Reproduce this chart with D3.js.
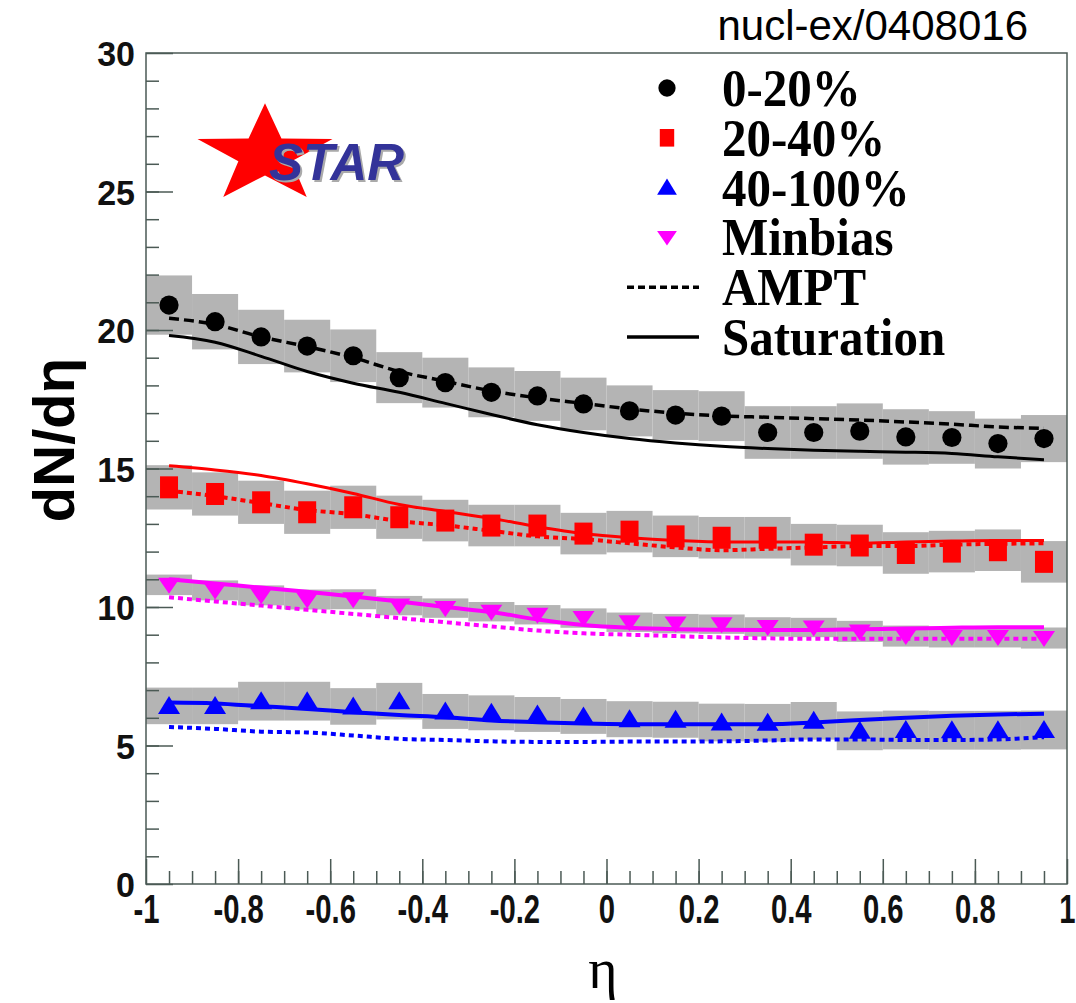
<!DOCTYPE html>
<html>
<head>
<meta charset="utf-8">
<script src="https://cdn.jsdelivr.net/npm/d3@7"></script>
<style>
  body { margin: 0; background: #fff; }
  text { font-family: "Liberation Sans", Arial, sans-serif; }
</style>
</head>
<body>
<svg id="chart" width="1076" height="1003"></svg>
<script>
// eta bin centres (bins are 0.1 wide)
var eta = [-0.95, -0.85, -0.75, -0.65, -0.55, -0.45, -0.35, -0.25, -0.15, -0.05,
            0.05,  0.15,  0.25,  0.35,  0.45,  0.55,  0.65,  0.75,  0.85,  0.95];

// STAR data points and systematic error (half height of grey box)
var cent0020 = [20.9, 20.3, 19.75, 19.42, 19.07, 18.28, 18.1, 17.75, 17.62, 17.33,
                17.08, 16.93, 16.89, 16.3, 16.3, 16.35, 16.14, 16.12, 15.9, 16.08];
var err0020  = [1.07, 1.0, 0.98, 0.95, 0.95, 0.92, 0.9, 0.9, 0.9, 0.95,
                0.92, 0.9, 0.9, 0.95, 0.95, 1.0, 1.0, 0.95, 0.9, 0.85];
var cent2040 = [14.32, 14.08, 13.78, 13.42, 13.6, 13.24, 13.12, 12.94, 12.94, 12.65,
                12.72, 12.55, 12.5, 12.5, 12.25, 12.22, 11.95, 12.0, 12.05, 11.63];
var err2040  = [0.8, 0.78, 0.78, 0.78, 0.78, 0.78, 0.75, 0.75, 0.75, 0.75,
                0.75, 0.75, 0.75, 0.75, 0.75, 0.75, 0.75, 0.75, 0.75, 0.75];
var cent40100 = [6.43, 6.43, 6.6, 6.6, 6.41, 6.6, 6.23, 6.18, 6.12, 6.05,
                 5.95, 5.93, 5.83, 5.82, 5.89, 5.53, 5.56, 5.55, 5.55, 5.56];
var err40100  = [0.66, 0.66, 0.7, 0.7, 0.66, 0.66, 0.63, 0.63, 0.63, 0.63,
                 0.65, 0.65, 0.68, 0.68, 0.68, 0.7, 0.7, 0.7, 0.7, 0.7];
var minbias = [10.8, 10.6, 10.42, 10.27, 10.28, 10.05, 9.96, 9.83, 9.72, 9.6,
               9.45, 9.4, 9.38, 9.28, 9.26, 9.12, 8.95, 8.92, 8.92, 8.88];
var errMinbias = [0.37, 0.36, 0.36, 0.36, 0.36, 0.35, 0.35, 0.35, 0.35, 0.35,
                  0.35, 0.35, 0.35, 0.35, 0.35, 0.38, 0.38, 0.38, 0.38, 0.38];

// model curves
var ampt0020 = [20.42, 20.2, 19.75, 19.4, 19.0, 18.5, 18.15, 17.8, 17.55, 17.35,
                17.15, 17.0, 16.9, 16.85, 16.8, 16.75, 16.68, 16.6, 16.5, 16.45];
var sat0020  = [19.8, 19.56, 19.05, 18.5, 18.08, 17.75, 17.35, 16.95, 16.58, 16.3,
                16.08, 15.92, 15.8, 15.72, 15.66, 15.62, 15.59, 15.54, 15.42, 15.32];
var ampt2040 = [14.2, 14.0, 13.75, 13.5, 13.35, 13.1, 12.95, 12.75, 12.55, 12.45,
                12.3, 12.15, 12.05, 12.1, 12.15, 12.2, 12.2, 12.25, 12.28, 12.3];
var sat2040  = [15.1, 14.95, 14.75, 14.45, 14.1, 13.7, 13.45, 13.2, 12.9, 12.65,
                12.5, 12.4, 12.35, 12.35, 12.35, 12.3, 12.35, 12.38, 12.4, 12.4];
var amptMinbias = [10.35, 10.2, 10.05, 9.9, 9.75, 9.6, 9.45, 9.3, 9.15, 9.05,
                   9.0, 8.95, 8.9, 8.87, 8.85, 8.85, 8.85, 8.85, 8.85, 8.85];
var satMinbias  = [11.0, 10.85, 10.7, 10.55, 10.38, 10.2, 10.0, 9.82, 9.55, 9.35,
                   9.25, 9.2, 9.18, 9.17, 9.17, 9.2, 9.22, 9.25, 9.27, 9.27];
var ampt40100 = [5.67, 5.6, 5.5, 5.47, 5.36, 5.24, 5.2, 5.15, 5.13, 5.13,
                 5.14, 5.14, 5.15, 5.18, 5.22, 5.22, 5.2, 5.2, 5.22, 5.3];
var sat40100  = [6.55, 6.52, 6.42, 6.32, 6.2, 6.1, 6.02, 5.9, 5.84, 5.79,
                 5.77, 5.77, 5.77, 5.77, 5.83, 5.92, 6.0, 6.07, 6.12, 6.15];

var xTickLabels = [-1, -0.8, -0.6, -0.4, -0.2, 0, 0.2, 0.4, 0.6, 0.8, 1];
var yTickLabels = [0, 5, 10, 15, 20, 25, 30];
var legendNames = ["0-20%", "20-40%", "40-100%", "Minbias", "AMPT", "Saturation"];

(function dNdEta() {
    var svg = d3.select("#chart");
    var left = 146, right = 1067, top = 53, bottom = 884;
    var binHalf = 0.05;

    var x = d3.scaleLinear().domain([-1, 1]).range([left, right]);
    var y = d3.scaleLinear().domain([0, 30]).range([bottom, top]);

    var series = [
        { name: "0-20%",   color: "#000000", pts: cent0020,  err: err0020,    ampt: ampt0020,    sat: sat0020,    marker: "circle", dash: "10,5", w: 3.5, sw: 3 },
        { name: "20-40%",  color: "#ff0000", pts: cent2040,  err: err2040,    ampt: ampt2040,    sat: sat2040,    marker: "square", dash: "5,4", w: 4, sw: 3 },
        { name: "Minbias", color: "#ff00ff", pts: minbias,   err: errMinbias, ampt: amptMinbias, sat: satMinbias, marker: "down",   dash: "5,4", w: 4, sw: 4 },
        { name: "40-100%", color: "#0000ff", pts: cent40100, err: err40100,   ampt: ampt40100,   sat: sat40100,   marker: "up",     dash: "5,4", w: 4, sw: 4 }
    ];

    // grey systematic boxes
    var boxes = svg.append("g").attr("class", "sys");
    series.forEach(function(s) {
        boxes.selectAll(null)
             .data(eta)
             .enter().append("rect")
             .attr("x", function(d) { return x(d - binHalf); })
             .attr("width", function(d) { return x(d + binHalf) - x(d - binHalf); })
             .attr("y", function(d, i) { return y(s.pts[i] + s.err[i]); })
             .attr("height", function(d, i) { return y(s.pts[i] - s.err[i]) - y(s.pts[i] + s.err[i]); })
             .attr("fill", "#b4b4b4");
    });

    var line = function(vals) {
        return d3.line()
                 .x(function(d) { return x(d); })
                 .y(function(d, i) { return y(vals[i]); })
                 .curve(d3.curveMonotoneX)(eta);
    };

    series.forEach(function(s) {
        svg.append("path")
           .attr("d", line(s.ampt))
           .attr("fill", "none")
           .attr("stroke", s.color)
           .attr("stroke-width", s.w)
           .attr("stroke-dasharray", s.dash);
        svg.append("path")
           .attr("d", line(s.sat))
           .attr("fill", "none")
           .attr("stroke", s.color)
           .attr("stroke-width", s.sw);
    });

    // markers
    var drawMarker = function(g, type, color, size) {
        if (type == "circle") {
            g.append("circle").attr("r", size * 0.48).attr("fill", color);
        } else if (type == "square") {
            g.append("rect").attr("x", -size * 0.45).attr("y", -size * 0.55)
             .attr("width", size * 0.9).attr("height", size * 1.1).attr("fill", color);
        } else if (type == "up") {
            g.append("path").attr("d", "M0," + (-size * 0.5) + "L" + (size * 0.55) + "," + (size * 0.4) + "L" + (-size * 0.55) + "," + (size * 0.4) + "Z").attr("fill", color);
        } else {
            g.append("path").attr("d", "M0," + (size * 0.45) + "L" + (size * 0.55) + "," + (-size * 0.35) + "L" + (-size * 0.55) + "," + (-size * 0.35) + "Z").attr("fill", color);
        }
    };

    series.forEach(function(s) {
        svg.append("g").selectAll("g")
           .data(eta)
           .enter().append("g")
           .attr("transform", function(d, i) { return "translate(" + x(d) + "," + y(s.pts[i]) + ")"; })
           .each(function() { drawMarker(d3.select(this), s.marker, s.color, 20); });
    });

    // frame and ticks
    var frameColor = "#4b5a55";
    svg.append("rect")
       .attr("x", left).attr("y", top)
       .attr("width", right - left).attr("height", bottom - top)
       .attr("fill", "none").attr("stroke", frameColor).attr("stroke-width", 1.5);

    var xMinor = svg.append("g").attr("transform", "translate(0," + bottom + ")")
                    .call(d3.axisBottom(x).tickValues(d3.range(-0.95, 1, 0.05)).tickSize(-13).tickFormat(""));
    var xMajor = svg.append("g").attr("transform", "translate(0," + bottom + ")")
                    .call(d3.axisBottom(x).tickValues(xTickLabels).tickSize(-25)
                    .tickFormat(function(d) { return String(d); }));
    var yMinor = svg.append("g").attr("transform", "translate(" + left + ",0)")
                    .call(d3.axisLeft(y).tickValues(d3.range(1, 30, 1)).tickSize(-13).tickFormat(""));
    var yMajor = svg.append("g").attr("transform", "translate(" + left + ",0)")
                    .call(d3.axisLeft(y).tickValues(yTickLabels).tickSize(-27));

    [xMinor, xMajor, yMinor, yMajor].forEach(function(a) {
        a.select(".domain").remove();
        a.selectAll("line").attr("stroke", frameColor).attr("stroke-width", 1.5);
    });

    xMajor.selectAll(".tick text")
          .attr("font-size", 34).attr("font-weight", "bold").attr("fill", "#111")
          .attr("x", 0).attr("y", 33).attr("dy", 0)
          .attr("transform", "scale(0.86,1.18)")
          .attr("text-anchor", "middle");
    yMajor.selectAll(".tick text")
          .attr("font-size", 34).attr("font-weight", "bold").attr("fill", "#111")
          .attr("x", -11).attr("y", 0).attr("dy", "0.36em")
          .attr("transform", "scale(1,1.05)")
          .attr("text-anchor", "end");

    // axis titles
    svg.append("text")
       .attr("transform", "translate(74,440) rotate(-90)")
       .attr("text-anchor", "middle")
       .attr("font-size", 58).attr("font-weight", "bold")
       .text("dN/d\u03b7");
    svg.append("text")
       .attr("x", 603).attr("y", 988)
       .attr("text-anchor", "middle")
       .style("font-family", "'Liberation Serif', serif")
       .attr("font-size", 56)
       .text("\u03b7");

    svg.append("text")
       .attr("x", 1028).attr("y", 40)
       .attr("text-anchor", "end")
       .attr("font-size", 42)
       .text("nucl-ex/0408016");

    // STAR logo
    var R = 71, r = 28;
    var starPts = d3.range(10).map(function(i) {
        var a = -Math.PI / 2 + i * Math.PI / 5;
        var rr = i % 2 == 0 ? R : r;
        return [rr * Math.cos(a), rr * Math.sin(a)];
    });
    svg.append("path")
       .attr("transform", "translate(265,155) scale(1,0.73)")
       .attr("d", "M" + starPts.join("L") + "Z")
       .attr("fill", "#ff0000");
    svg.append("text")
       .attr("x", 271).attr("y", 182)
       .attr("font-size", 51).attr("font-weight", "bold").attr("font-style", "italic")
       .attr("fill", "#aaaaaa")
       .text("STAR");
    svg.append("text")
       .attr("x", 269).attr("y", 180)
       .attr("font-size", 51).attr("font-weight", "bold").attr("font-style", "italic")
       .attr("fill", "#333399")
       .text("STAR");

    // legend
    var legY = d3.scaleLinear().domain([0, 5]).range([88, 337]);
    var legMarkers = ["circle", "square", "up", "down", "ampt", "sat"];
    var legColors = ["#000000", "#ff0000", "#0000ff", "#ff00ff", "#000000", "#000000"];
    var leg = svg.append("g").attr("class", "legend");
    legendNames.forEach(function(name, i) {
        var g = leg.append("g").attr("transform", "translate(667," + legY(i) + ")");
        if (legMarkers[i] == "ampt") {
            g.append("line").attr("x1", -40).attr("x2", 32)
             .attr("stroke", "#000").attr("stroke-width", 3.5).attr("stroke-dasharray", "7,4");
        } else if (legMarkers[i] == "sat") {
            g.append("line").attr("x1", -40).attr("x2", 32)
             .attr("stroke", "#000").attr("stroke-width", 3.5);
        } else {
            drawMarker(g, legMarkers[i], legColors[i], legMarkers[i] == "square" ? 16 : 18);
        }
        g.append("text")
         .attr("x", 55).attr("y", 0)
         .attr("transform", "scale(1,1.08)")
         .attr("dy", "0.34em")
         .style("font-family", "'Liberation Serif', 'Times New Roman', serif")
         .attr("font-size", 49).attr("font-weight", "bold")
         .text(name);
    });
}());
</script>
</body>
</html>
